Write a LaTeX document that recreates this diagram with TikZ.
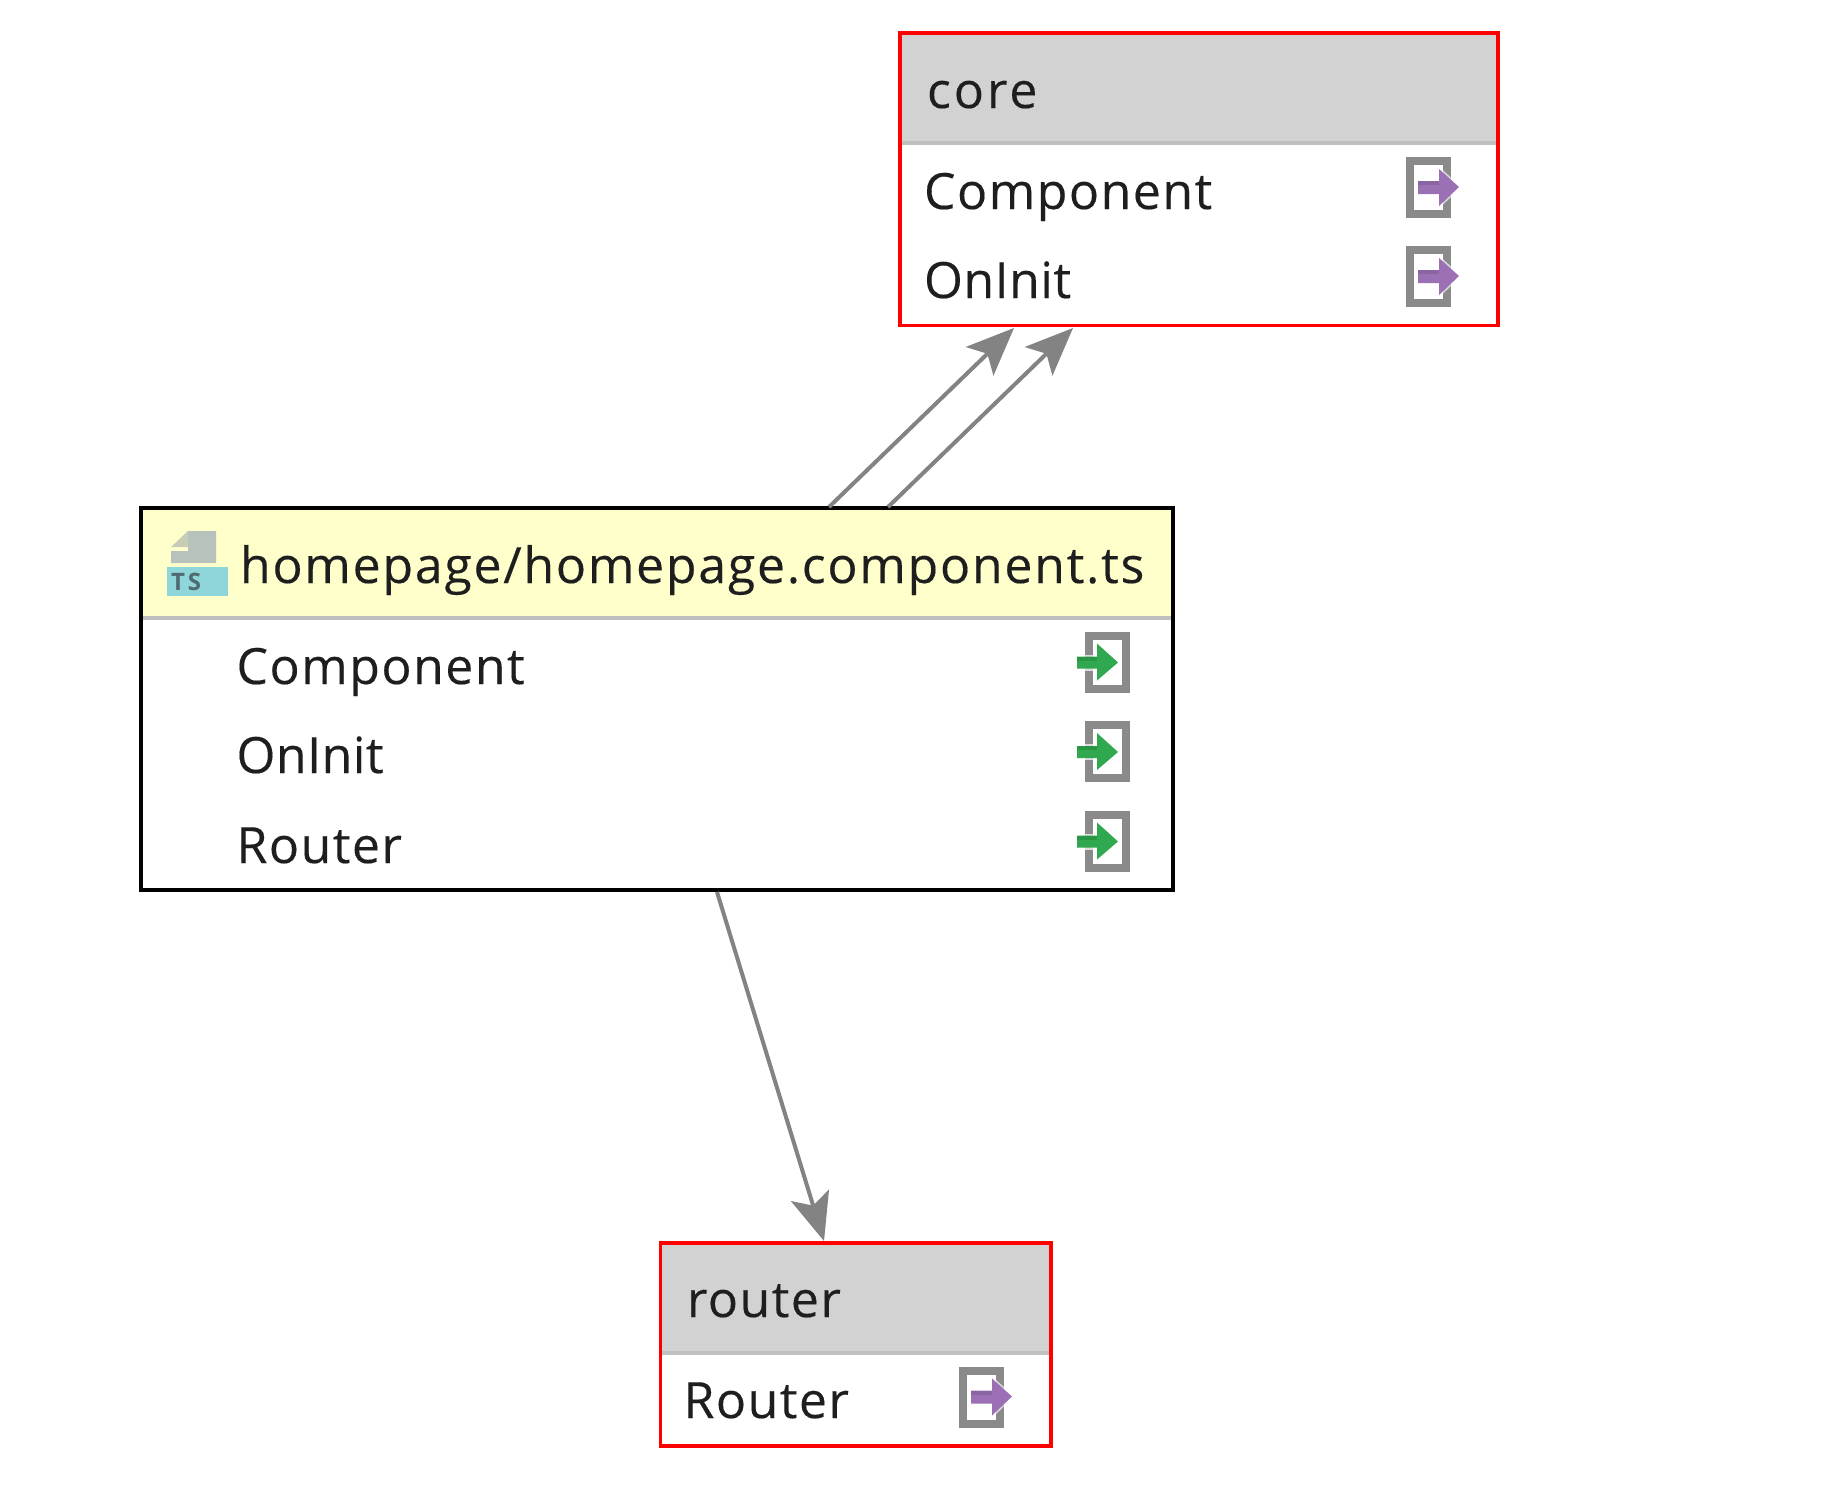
\documentclass[tikz,border=0pt]{standalone}
\usepackage{fontspec}
\setmainfont[LetterSpace=3,FakeBold=0.25]{Open Sans}
\newfontfamily\tsfont[LetterSpace=12]{Open Sans}
\usetikzlibrary{arrows.meta}
\definecolor{txt}{HTML}{1E1E1E}
\definecolor{headgray}{HTML}{D2D2D2}
\definecolor{headyellow}{HTML}{FFFFCC}
\definecolor{sepgray}{HTML}{C0C0C0}
\definecolor{frameg}{HTML}{8A8A8A}
\definecolor{connG}{HTML}{838383}
\definecolor{greenA}{HTML}{2FA84F}
\definecolor{purpA}{HTML}{9B70B5}
\definecolor{tsblue}{HTML}{8ED6DA}
\definecolor{tstext}{HTML}{4F6A70}
\definecolor{docg}{HTML}{B8C2BC}
\definecolor{docl}{HTML}{C6CCB6}
\newcommand{\lsp}[1]{\addfontfeature{LetterSpace=#1}}
\tikzset{
  x=1pt,y=-1pt,
  box/.style={draw=#1,fill=white,line width=3.8pt,rectangle,inner sep=0pt,outer sep=0pt,anchor=north west},
  headfill/.style={fill=#1,draw=none,rectangle,inner sep=0pt,outer sep=0pt,anchor=north west},
  label/.style={anchor=base west,inner sep=0pt,outer sep=0pt,text=txt,font=\fontsize{50}{60}\selectfont},
  sepline/.style={draw=sepgray,line width=4pt},
  conn/.style={draw=connG,line width=4pt,-{Stealth[length=48pt,width=40pt,inset=11pt,line width=0pt]}},
  importicon/.pic={
    \draw[frameg,line width=8pt] (4,4) rectangle (41,57);
    \fill[white,opacity=.7] (-2,23) rectangle (12,39);
    \fill[greenA] (-8,25) -- (12,25) -- (12,12) -- (33,31) -- (12,49) -- (12,37) -- (-8,37) -- cycle;
    \fill[greenA!80!black,opacity=.5] (-8,25) rectangle (12,29);
  },
  exporticon/.pic={
    \draw[frameg,line width=8pt] (4,4) rectangle (41,57);
    \draw[white,opacity=.65,line width=2pt] (33,11) -- (54,30) -- (33,50);
    \fill[purpA] (12,24) -- (33,24) -- (33,12) -- (53,30) -- (33,49) -- (33,37) -- (12,37) -- cycle;
    \fill[purpA!80!black,opacity=.5] (12,24) rectangle (33,28);
  }
}
\begin{document}
\begin{tikzpicture}
\useasboundingbox[fill=white] (0,0) rectangle (1838,1508);
% core
\node[box=red,minimum width=597.6pt,minimum height=292.5pt] (core) at (900,33) {};
\node[headfill=headgray,minimum width=593.8pt,minimum height=108pt] (coreh) at (901.9,34.9) {};
\draw[sepline] (901.9,143) -- (1495.7,143);
\node[label] (corel) at (927,108) {\lsp{6}core};
\node[label] (core1) at (924,209) {\lsp{3}Component};
\node[label] (core2) at (924,298) {\lsp{1}OnInit};
\pic at (1406,157) {exporticon};
\pic at (1406,246) {exporticon};
% home
\node[box=black,minimum width=1032pt,minimum height=382pt] (home) at (141,508) {};
\node[headfill=headyellow,minimum width=1028.2pt,minimum height=108pt] (homeh) at (142.9,509.9) {};
\draw[sepline] (142.9,618) -- (1171.1,618);
\fill[tsblue] (167,567) rectangle (228,596);
\fill[docg] (188,531) -- (216,531) -- (216,563) -- (171,563) -- (171,551) -- (188,551) -- cycle;
\fill[docl] (188,531) -- (188,547) -- (171,547) -- cycle;
\node[anchor=base west,inner sep=0pt,text=tstext,font=\fontsize{24}{28}\selectfont\tsfont\bfseries] (tsl) at (171,590) {TS};
\node[label] (homel) at (240,583) {\lsp{3.5}homepage/homepage.component.ts};
\node[label] (home1) at (236.5,684) {\lsp{3}Component};
\node[label] (home2) at (236.5,773) {\lsp{1}OnInit};
\node[label] (home3) at (236.5,863) {Router};
\pic at (1085,631.5) {importicon};
\pic at (1085,721) {importicon};
\pic at (1085,810.5) {importicon};
% router
\node[box=red,minimum width=390.5pt,minimum height=203pt] (router) at (660.5,1243) {};
\node[headfill=headgray,minimum width=386.7pt,minimum height=108pt] (routerh) at (662.4,1244.9) {};
\draw[sepline] (662.4,1353) -- (1049.1,1353);
\node[label] (routerl) at (687,1317) {router};
\node[label] (router1) at (683.5,1418) {Router};
\pic at (959,1366.5) {exporticon};
% connectors
\coordinate (h1) at (829,507);
\coordinate (h2) at (888,507);
\coordinate (h3) at (717,892);
\coordinate (c1) at (1014,328);
\coordinate (c2) at (1073,328);
\coordinate (r1) at (824,1241);
\draw[conn] (h1) -- (c1);
\draw[conn] (h2) -- (c2);
\draw[conn] (h3) -- (r1);
\end{tikzpicture}
\end{document}
